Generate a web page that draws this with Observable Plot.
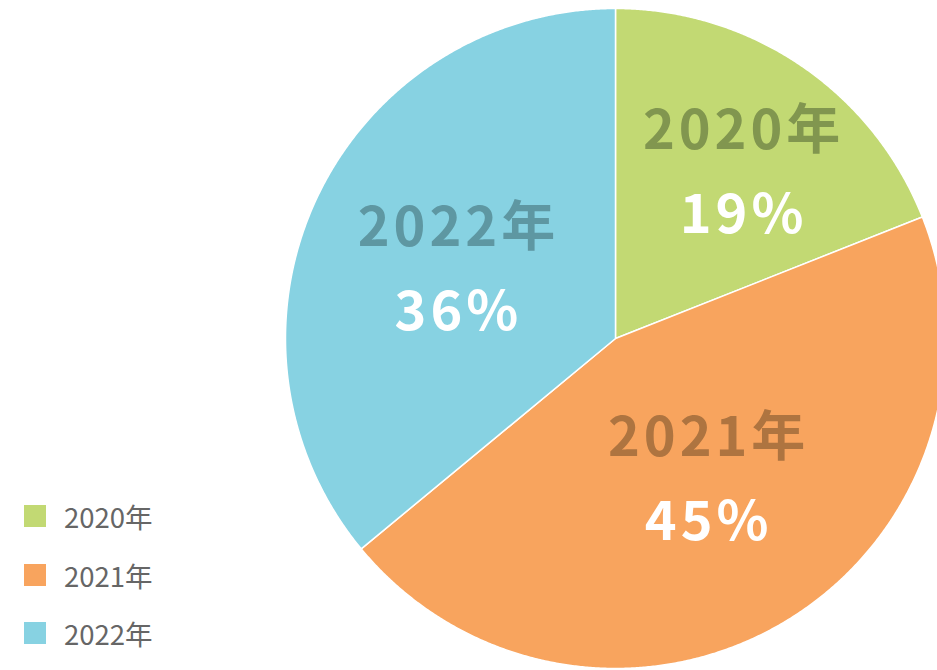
<!DOCTYPE html>
<html>
<head>
<meta charset="utf-8">
<script src="https://cdn.jsdelivr.net/npm/d3@7"></script>
<script src="https://cdn.jsdelivr.net/npm/@observablehq/plot@0.6"></script>
<style>
  html, body { margin: 0; padding: 0; background: #fff; overflow: hidden; }
  #wrap { position: relative; width: 937px; height: 670px; }
  #chart text { letter-spacing: 4px; }
  #legend { position: absolute; left: 24px; top: 505px; font-family: "Noto Sans CJK JP", "Noto Sans", sans-serif; }
  .row { display: flex; align-items: center; height: 22px; margin-bottom: 36.5px; }
  .sw { width: 22px; height: 22px; margin-right: 18px; }
  .lb { font-size: 27.5px; color: #666; line-height: 22px; }
</style>
</head>
<body>
<div id="wrap"><div id="chart"></div><div id="legend"></div></div>
<script>
const years = ["2020年", "2021年", "2022年"];
const shares = [19, 45, 36];
const sliceColors = ["#C2D973", "#F8A45E", "#87D2E2"];
const labelColors = ["#81964F", "#AE7440", "#5E97A2"];
const pctLabels = ["19%", "45%", "36%"];

const arcs = d3.pie().sort(null).value(d => d)(shares);

// polygon outline points for each slice, built from the pie layout
const pts = [];
arcs.forEach((a, i) => {
  pts.push({year: years[i], x: 0, y: 0});
  const n = Math.max(2, Math.ceil((a.endAngle - a.startAngle) / 0.005));
  for (let k = 0; k <= n; k++) {
    const t = a.startAngle + (a.endAngle - a.startAngle) * k / n;
    pts.push({year: years[i], x: Math.sin(t), y: Math.cos(t)});
  }
  pts.push({year: years[i], x: 0, y: 0});
});

// label placement: fraction of radius and small angular tweak (radians) per slice
const labelR = [0.629, 0.511, 0.524];
const labelTurn = [0.056, -0.037, -0.037];
const labels = arcs.map((a, i) => {
  const m = (a.startAngle + a.endAngle) / 2 + labelTurn[i];
  return {year: years[i], pct: pctLabels[i], color: labelColors[i],
          x: labelR[i] * Math.sin(m), y: labelR[i] * Math.cos(m)};
});

const font = `"Noto Sans CJK JP", "Noto Sans", sans-serif`;
const chart = Plot.plot({
  width: 937,
  height: 670,
  margin: 0,
  style: {background: "white", overflow: "hidden", fontFamily: font},
  x: {domain: [-1, 1], range: [285, 945], axis: null},
  y: {domain: [-1, 1], range: [668, 8], axis: null},
  color: {domain: years, range: sliceColors},
  marks: [
    Plot.line(pts, {x: "x", y: "y", z: "year", fill: "year", stroke: "white", strokeWidth: 1.5, curve: "linear"}),
    Plot.text(labels, {x: "x", y: "y", text: "year", fill: "color", fontSize: 54, fontWeight: 700, dx: 2, dy: -42, lineAnchor: "middle", fontFamily: font}),
    Plot.text(labels, {x: "x", y: "y", text: "pct", fill: "white", fontSize: 54, fontWeight: 700, dx: 2, dy: 42, lineAnchor: "middle", fontFamily: font})
  ]
});
document.getElementById("chart").appendChild(chart);

const legend = document.getElementById("legend");
years.forEach((y, i) => {
  const row = document.createElement("div");
  row.className = "row";
  row.innerHTML = `<div class="sw" style="background:${sliceColors[i]}"></div><div class="lb">${y}</div>`;
  legend.appendChild(row);
});
</script>
</body>
</html>
